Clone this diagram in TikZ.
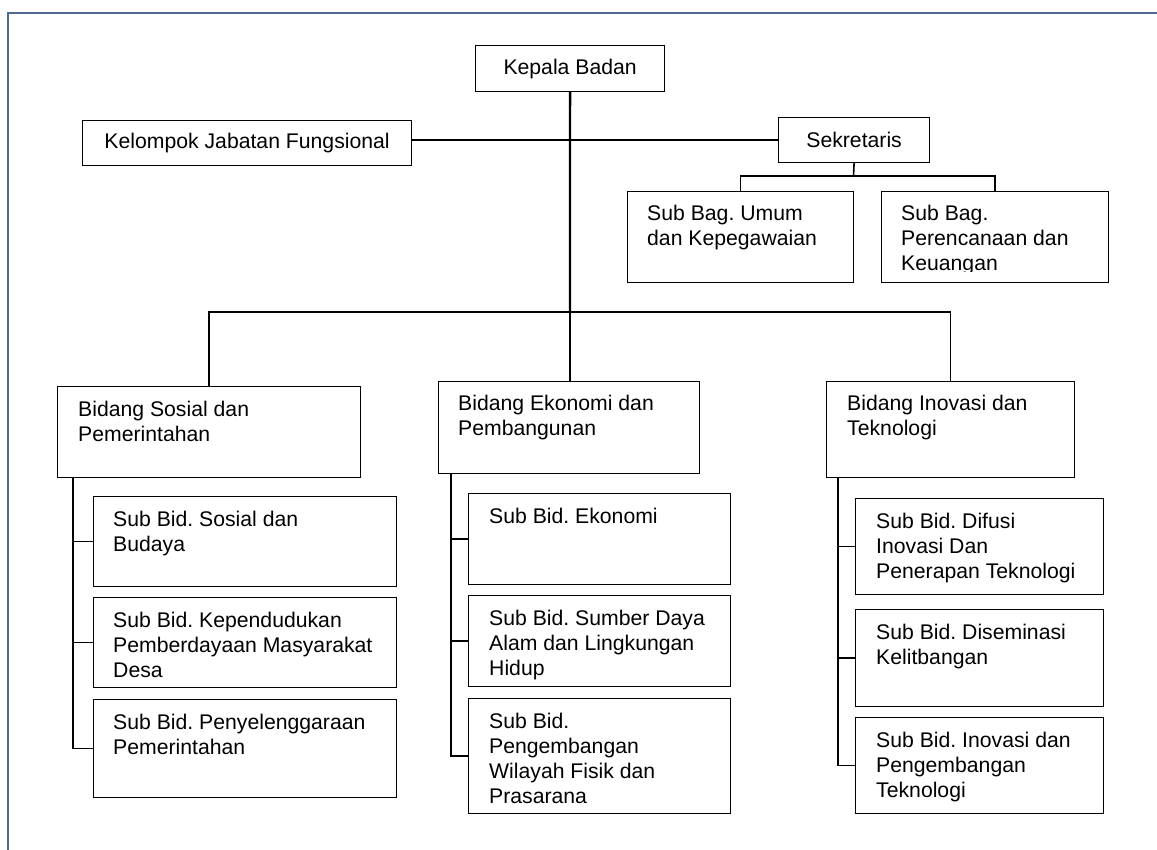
\documentclass[tikz,border=0pt]{standalone}
\usepackage{fontspec}
\setmainfont{Liberation Sans}
\definecolor{framecol}{RGB}{79,107,140}
\begin{document}
\frenchspacing
\begin{tikzpicture}[x=1pt,y=-1pt,
  box/.style={draw=black, line width=1.2pt, rectangle, inner sep=0pt, anchor=north west},
  cbox/.style={box, font=\fontsize{21.2}{25}\selectfont},
  lbl/.style={anchor=base west, inner sep=0pt, font=\fontsize{21.2}{25}\selectfont},
  conn/.style={draw=black, line width=1.6pt},
  thickconn/.style={draw=black, line width=2.3pt},
]
\useasboundingbox (0,0) rectangle (1157,850);
% frame
\draw[framecol, line width=1.5pt] (8,850) -- (8,13) -- (1157,13);

% top boxes
\node[cbox, minimum width=189pt, minimum height=46pt] (kb) at (475,45) {Kepala Badan};
\node[cbox, minimum width=329pt, minimum height=45pt] (kjf) at (82,120) {Kelompok Jabatan Fungsional};
\node[cbox, minimum width=151pt, minimum height=45pt] (sek) at (778,117) {Sekretaris};

% sub bagian
\node[box, minimum width=226pt, minimum height=91pt] (sbu) at (627,191) {};
\node[lbl] (sbu-t) at ([xshift=20pt, yshift=-30pt]sbu.north west) {\parbox[t]{200pt}{Sub Bag. Umum\\dan Kepegawaian}};
\node[box, minimum width=227pt, minimum height=91pt] (sbp) at (881,191) {};
\begin{scope}
\clip (881,191) rectangle (1108,271.5);
\node[lbl] (sbp-t) at ([xshift=20pt, yshift=-30pt]sbp.north west) {\parbox[t]{200pt}{Sub Bag.\\Perencanaan dan\\Keuangan}};
\end{scope}

% bidang
\node[box, minimum width=303pt, minimum height=91pt] (bsp) at (57,386) {};
\node[lbl] (bsp-t) at ([xshift=21pt, yshift=-30pt]bsp.north west) {\parbox[t]{270pt}{Bidang Sosial dan\\Pemerintahan}};
\node[box, minimum width=261pt, minimum height=92pt] (bep) at (438,381) {};
\node[lbl] (bep-t) at ([xshift=20pt, yshift=-29pt]bep.north west) {\parbox[t]{235pt}{Bidang Ekonomi dan\\Pembangunan}};
\node[box, minimum width=248pt, minimum height=96pt] (bit) at (826,381) {};
\node[lbl] (bit-t) at ([xshift=21pt, yshift=-29pt]bit.north west) {\parbox[t]{220pt}{Bidang Inovasi dan\\Teknologi}};

% sub bidang left
\node[box, minimum width=303pt, minimum height=90pt] (s1) at (93,496) {};
\node[lbl] (s1-t) at ([xshift=20pt, yshift=-30pt]s1.north west) {\parbox[t]{280pt}{Sub Bid. Sosial dan\\Budaya}};
\node[box, minimum width=303pt, minimum height=90pt] (s2) at (93,597) {};
\node[lbl] (s2-t) at ([xshift=20pt, yshift=-30pt]s2.north west) {\parbox[t]{280pt}{Sub Bid. Kependudukan\\Pemberdayaan Masyarakat\\Desa}};
\node[box, minimum width=303pt, minimum height=98pt] (s3) at (93,699) {};
\node[lbl] (s3-t) at ([xshift=20pt, yshift=-30pt]s3.north west) {\parbox[t]{280pt}{Sub Bid. Penyelenggaraan\\Pemerintahan}};

% sub bidang middle
\node[box, minimum width=262pt, minimum height=91pt] (e1) at (468,493) {};
\node[lbl] (e1-t) at ([xshift=21pt, yshift=-30pt]e1.north west) {\parbox[t]{240pt}{Sub Bid. Ekonomi}};
\node[box, minimum width=262pt, minimum height=91pt] (e2) at (468,595) {};
\node[lbl] (e2-t) at ([xshift=21pt, yshift=-30pt]e2.north west) {\parbox[t]{240pt}{Sub Bid. Sumber Daya\\Alam dan Lingkungan\\Hidup}};
\node[box, minimum width=262pt, minimum height=115pt] (e3) at (468,698) {};
\node[lbl] (e3-t) at ([xshift=21pt, yshift=-30pt]e3.north west) {\parbox[t]{240pt}{Sub Bid.\\Pengembangan\\Wilayah Fisik dan\\Prasarana}};

% sub bidang right
\node[box, minimum width=248pt, minimum height=96pt] (i1) at (855,498) {};
\node[lbl] (i1-t) at ([xshift=21pt, yshift=-30pt]i1.north west) {\parbox[t]{225pt}{Sub Bid. Difusi\\Inovasi Dan\\Penerapan Teknologi}};
\node[box, minimum width=248pt, minimum height=97pt] (i2) at (855,609) {};
\node[lbl] (i2-t) at ([xshift=21pt, yshift=-30pt]i2.north west) {\parbox[t]{225pt}{Sub Bid. Diseminasi\\Kelitbangan}};
\node[box, minimum width=248pt, minimum height=96pt] (i3) at (855,717) {};
\node[lbl] (i3-t) at ([xshift=21pt, yshift=-30pt]i3.north west) {\parbox[t]{225pt}{Sub Bid. Inovasi dan\\Pengembangan\\Teknologi}};

% connectors
\coordinate (jb) at (570,312);
\draw[conn] (kjf.east |- sek.west) -- (sek.west);
\draw[thickconn] (kb.south) -- (jb);
\draw[conn] (jb) -- (jb |- bep.north);
\draw[conn] (bsp.north) |- (jb) -| (bit.north);

\coordinate (sb) at (853.5,176);
\draw[conn] (sek.south) -- (sb);
\draw[conn] (sbu.north) |- (sb) -| (sbp.north);

\coordinate (lx) at (73,0);
\draw[conn] (bsp.south -| lx) |- (s3.west);
\draw[conn] (s1.west -| lx) -- (s1.west);
\draw[conn] (s2.west -| lx) -- (s2.west);

\coordinate (mx) at (451,0);
\draw[conn] (bep.south -| mx) |- (e3.west);
\draw[conn] (e1.west -| mx) -- (e1.west);
\draw[conn] (e2.west -| mx) -- (e2.west);

\coordinate (rx) at (838,0);
\draw[conn] (bit.south -| rx) |- (i3.west);
\draw[conn] (i1.west -| rx) -- (i1.west);
\draw[conn] (i2.west -| rx) -- (i2.west);
\end{tikzpicture}
\end{document}
